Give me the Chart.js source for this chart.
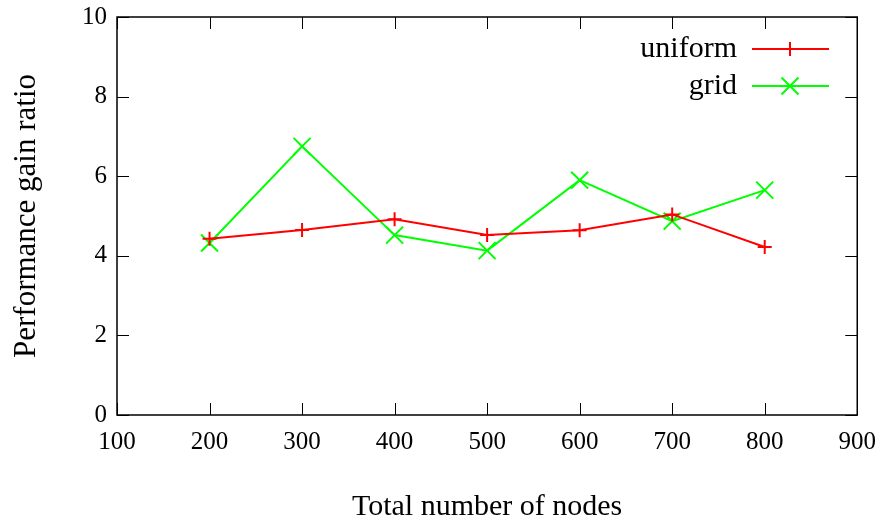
<!DOCTYPE html>
<html>
<head>
<meta charset="utf-8">
<script src="https://cdn.jsdelivr.net/npm/chart.js@4"></script>
<style>
  html, body { margin: 0; padding: 0; background: #fff; }
  #wrap { width: 888px; height: 521px; }
</style>
</head>
<body>
<div id="wrap"><canvas id="gainChart"></canvas></div>
<script>
const nodes = [200, 300, 400, 500, 600, 700, 800];
const uniformGain = [4.43, 4.65, 4.92, 4.52, 4.64, 5.04, 4.22];
const gridGain = [4.32, 6.75, 4.52, 4.13, 5.90, 4.87, 5.65];

const serif = "'Liberation Serif', 'DejaVu Serif', serif";

function points(ys) {
  return nodes.map((x, i) => ({ x: x, y: ys[i] }));
}

// gnuplot style frame: box around the plot with inward ticks on all sides
const frame = {
  id: 'frame',
  afterDraw(chart) {
    const ctx = chart.ctx;
    const a = chart.chartArea;
    const xs = chart.scales.x, ys = chart.scales.y;
    const len = 12;
    ctx.save();
    ctx.strokeStyle = '#000';
    ctx.lineWidth = 1.5;
    ctx.strokeRect(a.left, a.top, a.right - a.left, a.bottom - a.top);
    ctx.lineWidth = 1;
    ctx.beginPath();
    xs.ticks.forEach(t => {
      const px = Math.round(xs.getPixelForValue(t.value)) + 0.5;
      ctx.moveTo(px, a.bottom); ctx.lineTo(px, a.bottom - len);
      ctx.moveTo(px, a.top); ctx.lineTo(px, a.top + len);
    });
    ys.ticks.forEach(t => {
      const py = Math.round(ys.getPixelForValue(t.value)) + 0.5;
      ctx.moveTo(a.left, py); ctx.lineTo(a.left + len, py);
      ctx.moveTo(a.right, py); ctx.lineTo(a.right - len, py);
    });
    ctx.stroke();
    ctx.restore();
  }
};

// key in the top right corner: label on the left, line sample with marker on the right
const key = {
  id: 'key',
  afterDraw(chart) {
    const ctx = chart.ctx;
    const rows = [49, 86];
    ctx.save();
    ctx.font = '30px ' + serif;
    ctx.textAlign = 'right';
    ctx.textBaseline = 'middle';
    chart.data.datasets.forEach((ds, i) => {
      const y = rows[i];
      ctx.fillStyle = '#000';
      ctx.fillText(ds.label, 737, y);
      ctx.strokeStyle = ds.borderColor;
      ctx.lineWidth = 2;
      ctx.beginPath();
      ctx.moveTo(752, y); ctx.lineTo(829, y);
      ctx.stroke();
      Chart.helpers.drawPoint(ctx, {
        pointStyle: ds.pointStyle,
        radius: ds.pointRadius,
        borderWidth: 2
      }, 790, y);
    });
    ctx.restore();
  }
};

new Chart(document.getElementById('gainChart'), {
  type: 'line',
  data: {
    datasets: [
      {
        label: 'uniform',
        data: points(uniformGain),
        borderColor: '#ff0000',
        backgroundColor: '#ff0000',
        borderWidth: 2,
        pointStyle: 'cross',
        pointRadius: 7,
        pointBorderWidth: 2,
        tension: 0
      },
      {
        label: 'grid',
        data: points(gridGain),
        borderColor: '#00ff00',
        backgroundColor: '#00ff00',
        borderWidth: 2,
        pointStyle: 'crossRot',
        pointRadius: 12,
        pointBorderWidth: 2,
        tension: 0
      }
    ]
  },
  options: {
    responsive: true,
    maintainAspectRatio: false,
    animation: false,
    layout: { padding: { top: 17, right: 30, left: 0, bottom: 0 } },
    plugins: {
      legend: { display: false },
      tooltip: { enabled: false }
    },
    scales: {
      x: {
        type: 'linear',
        min: 100,
        max: 900,
        ticks: { stepSize: 100, color: '#000', padding: 12, font: { family: serif, size: 25 } },
        grid: { display: false, drawTicks: false },
        border: { display: false },
        title: {
          display: true,
          text: 'Total number of nodes',
          color: '#000',
          font: { family: serif, size: 30 },
          padding: { top: 0, bottom: -4 }
        },
        afterFit(scale) { scale.height = 106; }
      },
      y: {
        min: 0,
        max: 10,
        ticks: { stepSize: 2, color: '#000', padding: 10, font: { family: serif, size: 25 } },
        grid: { display: false, drawTicks: false },
        border: { display: false },
        title: {
          display: true,
          text: 'Performance gain ratio',
          color: '#000',
          font: { family: serif, size: 31 },
          padding: { top: 8, bottom: 0 }
        },
        afterFit(scale) {
          scale.width = 117;
          scale.paddingTop = 0;
          scale.paddingBottom = 0;
        }
      }
    }
  },
  plugins: [frame, key]
});
</script>
</body>
</html>
